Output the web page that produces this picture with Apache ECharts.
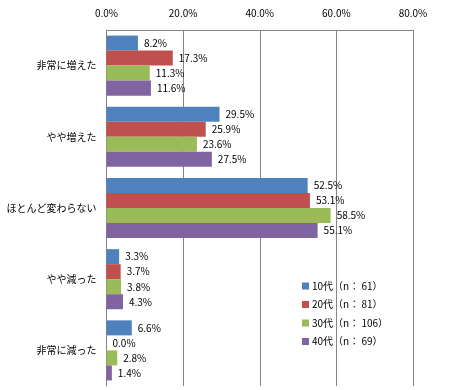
<!DOCTYPE html>
<html><head><meta charset="utf-8">
<script src="https://cdn.jsdelivr.net/npm/echarts@6/dist/echarts.min.js"></script>
<style>html,body{margin:0;padding:0;background:#fff}#c{width:451px;height:390px}</style>
</head><body><div id="c"></div>
<script>
const categories = ['非常に増えた','やや増えた','ほとんど変わらない','やや減った','非常に減った'];
const seriesNames = ['10代（n： 61）','20代（n： 81）','30代（n： 106）','40代（n： 69）'];
const s10 = [8.2, 29.5, 52.5, 3.3, 6.6];
const s20 = [17.3, 25.9, 53.1, 3.7, 0.0];
const s30 = [11.3, 23.6, 58.5, 3.8, 2.8];
const s40 = [11.6, 27.5, 55.1, 4.3, 1.4];
const xTicks = [0, 20, 40, 60, 80];
const colors = ['#4F81BD','#C0504D','#9BBB59','#8064A2'];
const font = '"Noto Sans CJK JP", "DejaVu Sans", sans-serif';
const allData = [s10, s20, s30, s40];
const chart = echarts.init(document.getElementById('c'));
chart.setOption({
  animation: false,
  textStyle: {fontFamily: font},
  grid: {left: 106.5, right: 38, top: 30, bottom: 4, containLabel: false},
  legend: {
    orient: 'vertical', left: 297, top: 276, itemWidth: 7, itemHeight: 7, itemGap: 8.5,
    icon: 'rect',
    textStyle: {fontSize: 10, color: '#000', fontFamily: font, padding: [0,0,0,-2]},
    data: seriesNames
  },
  xAxis: {
    type: 'value', position: 'top', min: xTicks[0], max: xTicks[xTicks.length-1], interval: 20,
    axisLine: {show: true, lineStyle: {color: '#868686', width: 1}}, axisTick: {show: false},
    splitLine: {lineStyle: {color: '#868686', width: 1}},
    axisLabel: {formatter: v => v.toFixed(1) + '%', fontSize: 10, color: '#000', margin: 12, fontFamily: font}
  },
  yAxis: {
    type: 'category', data: categories, inverse: true,
    axisLine: {show: true, lineStyle: {color: '#868686'}},
    axisTick: {show: false},
    axisLabel: {fontSize: 10, color: '#000', margin: 10, fontFamily: font}
  },
  series: allData.map((d, i) => ({
    name: seriesNames[i], type: 'bar', data: d, barGap: '0%', barCategoryGap: '15.6%',
    itemStyle: {color: colors[i]},
    label: {show: true, position: 'right', distance: 6, fontSize: 10, color: '#000', fontFamily: font,
      formatter: p => p.value.toFixed(1) + '%'}
  }))
});
</script></body></html>
